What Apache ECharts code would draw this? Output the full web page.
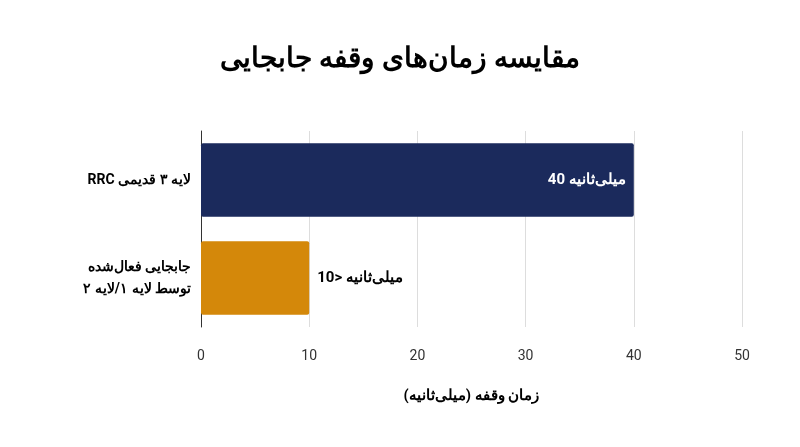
<!DOCTYPE html>
<html><head><meta charset="utf-8">
<script src="https://cdn.jsdelivr.net/npm/echarts@6/dist/echarts.min.js"></script>
<style>html,body{margin:0;padding:0;background:#fff}#c{width:800px;height:447px}</style>
</head><body><div id="c"></div>
<script>
const categories = ["\u202ARRC لایه ۳ قدیمی\u202C", "جابجایی فعال‌شده\nتوسط لایه ۱/لایه ۲"];
const values = [40, 10];
const valueLabels = ["\u202A40 میلی‌ثانیه\u202C", "\u202A10> میلی‌ثانیه\u202C"];
const colors = ["#1b2a5c", "#d4880a"];
const chart = echarts.init(document.getElementById('c'));
chart.setOption({
  textStyle:{fontFamily:'Roboto, "Noto Sans", sans-serif'},
  title:{text:'مقایسه زمان‌های وقفه جابجایی',left:'center',top:40,textStyle:{fontSize:28,fontWeight:'bold',color:'#000',fontFamily:'"Noto Sans", Roboto, sans-serif'}},
  grid:{left:201,right:58,top:131,bottom:120,containLabel:false},
  xAxis:{type:'value',min:0,max:50,interval:10,
    name:'زمان وقفه (میلی‌ثانیه)',nameLocation:'middle',nameGap:62,
    nameTextStyle:{fontSize:15,fontWeight:'bold',color:'#000'},
    axisLine:{show:false},axisTick:{show:false},
    axisLabel:{fontSize:14,color:'#333',margin:22},
    splitLine:{lineStyle:{color:'#ddd'}}},
  yAxis:{type:'category',data:categories,inverse:true,
    axisLine:{lineStyle:{color:'#333'}},axisTick:{show:false},
    axisLabel:{fontSize:14,fontWeight:'bold',color:'#000',margin:10,lineHeight:22,align:'right'}},
  series:[{type:'bar',barWidth:'75%',
    data:values.map((v,i)=>({value:v,itemStyle:{color:colors[i],borderRadius:2},
      label:{show:true,position:i===0?'insideRight':'right',distance:8,
        formatter:valueLabels[i],fontSize:15,fontWeight:'bold',color:i===0?'#fff':'#000'}}))}]
});
</script></body></html>
